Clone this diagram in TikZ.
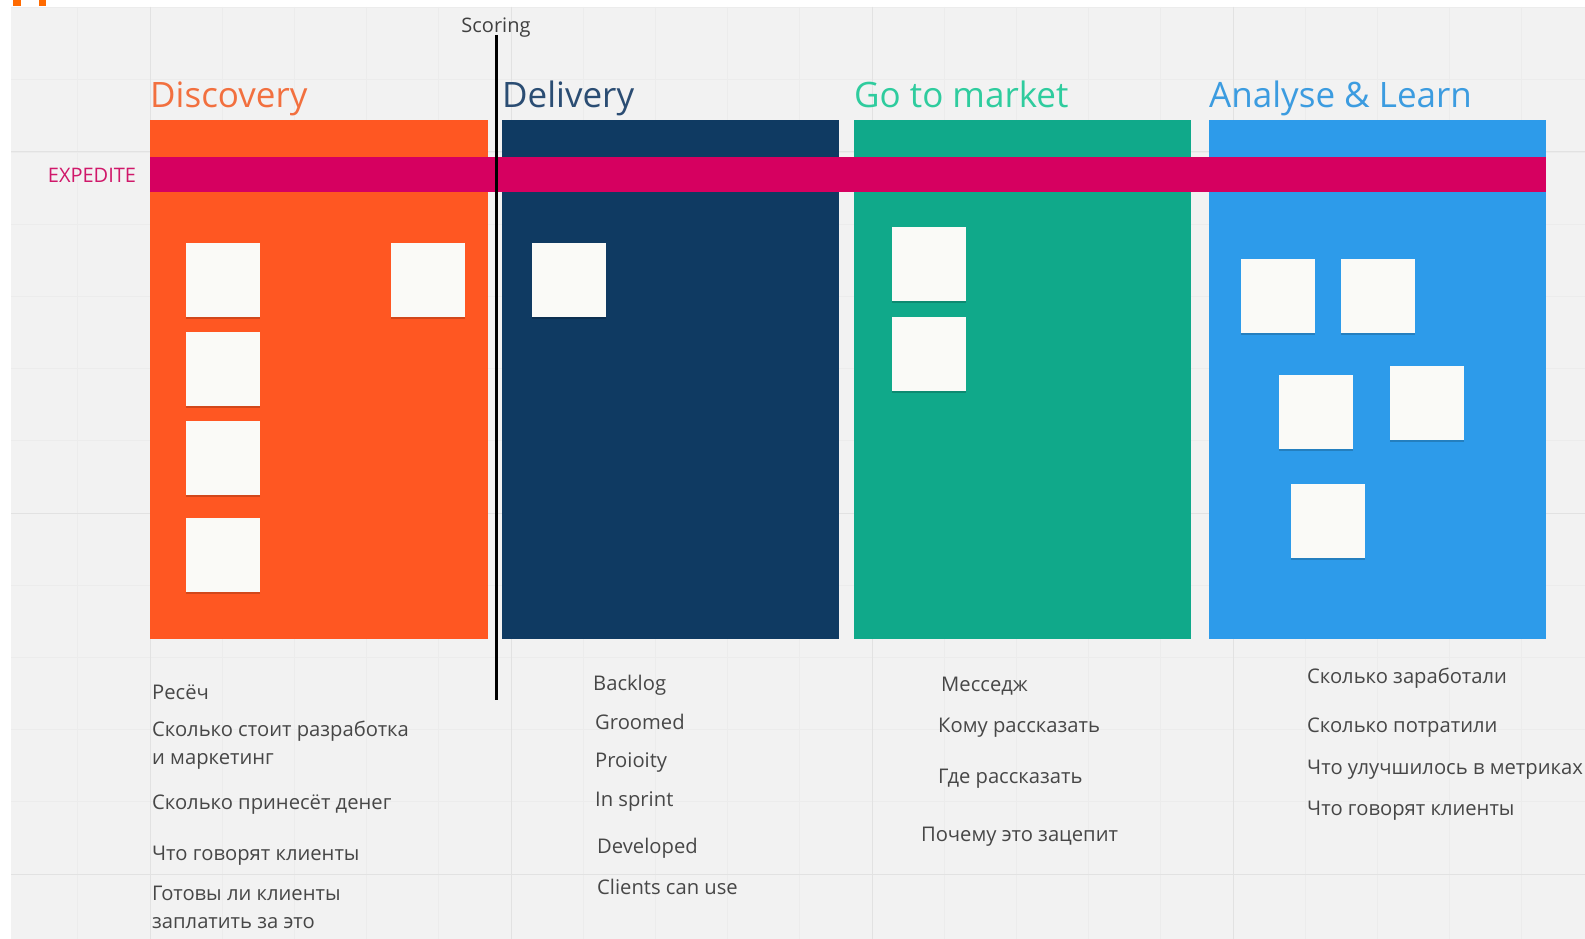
\documentclass[tikz,border=0pt]{standalone}
\usepackage{fontspec}
\setmainfont{Open Sans}
\usetikzlibrary{shadows}
\definecolor{bgc}{HTML}{F2F2F2}
\definecolor{gridminor}{HTML}{ECECEC}
\definecolor{gridmajor}{HTML}{E2E2E2}
\definecolor{colorange}{HTML}{FF5722}
\definecolor{colnavy}{HTML}{0F3A62}
\definecolor{colgreen}{HTML}{10A98A}
\definecolor{colblue}{HTML}{2D9BEA}
\definecolor{expc}{HTML}{D60060}
\definecolor{hdorange}{HTML}{F2703F}
\definecolor{hdnavy}{HTML}{2B4D73}
\definecolor{hdgreen}{HTML}{2FCC9E}
\definecolor{hdblue}{HTML}{3C9CE0}
\definecolor{exptext}{HTML}{D0186A}
\definecolor{stickyc}{HTML}{FAFAF7}
\definecolor{bodytext}{HTML}{474747}
\definecolor{markc}{HTML}{FF6A00}
\tikzset{
  column/.style={fill=#1, draw=none},
  header/.style={anchor=base west, inner sep=0pt, text=#1, font=\fontsize{35}{40}\selectfont},
  sticky/.style={draw=none, fill=stickyc, minimum width=74pt, minimum height=74pt, inner sep=0pt, anchor=north west, drop shadow={shadow xshift=0pt, shadow yshift=-2pt, fill=black, opacity=0.18}},
  body/.style={anchor=base west, inner sep=0pt, text=bodytext, font=\fontsize{20.2}{24}\selectfont},
}
\begin{document}
\begin{tikzpicture}[x=1pt,y=-1pt]
\useasboundingbox (0,0) rectangle (1585,939);
\fill[white] (0,0) rectangle (1585,939);
\fill[bgc] (11,7) rectangle (1585,939);
% grid
\begin{scope}
\clip (11,7) rectangle (1585,939);
\foreach \i in {-2,...,20} {
  \draw[gridminor, line width=0.8pt] ({150+72.2*\i},7) -- ({150+72.2*\i},939);
}
\foreach \j in {-2,...,11} {
  \draw[gridminor, line width=0.8pt] (11,{152+72.2*\j}) -- (1585,{152+72.2*\j});
}
\foreach \i in {0,...,4} {
  \draw[gridmajor, line width=1pt] ({150+361*\i},7) -- ({150+361*\i},939);
}
\foreach \j in {0,...,2} {
  \draw[gridmajor, line width=1pt] (11,{152+361*\j}) -- (1585,{152+361*\j});
}
\end{scope}
% top-left mark
\fill[markc] (13,0) rectangle (21,6);
\fill[markc] (39,0) rectangle (46,6);
% columns
\fill[column=colorange] (150,120) rectangle (488,639);
\fill[column=colnavy] (502,120) rectangle (839,639);
\fill[column=colgreen] (854,120) rectangle (1191,639);
\fill[column=colblue] (1209,120) rectangle (1546,639);
% expedite bar
\fill[expc] (150,157) rectangle (1546,192);
\node[anchor=center, inner sep=0pt, text=exptext, font=\fontsize{20}{24}\selectfont] (expedite) at (92,175) {EXPEDITE};
% headers
\node[header=hdorange] (hdisc) at (150,108) {Discovery};
\node[header=hdnavy] (hdel) at (502,108) {Delivery};
\node[header=hdgreen] (hgo) at (854,108) {Go to market};
\node[header=hdblue] (han) at (1209,108) {Analyse \& Learn};
% scoring
\node[anchor=center, inner sep=0pt, text=black!75, font=\fontsize{20}{24}\selectfont] (scoring) at (496,28) {Scoring};
\coordinate (scoretop) at (496,35);
\coordinate (scorebot) at (496,700);
\draw[black, line width=3pt] (scoretop) -- (scorebot);
% sticky notes
\node[sticky] (d1) at (186,243) {};
\node[sticky] (d2) at (391,243) {};
\node[sticky] (d3) at (186,332) {};
\node[sticky] (d4) at (186,421) {};
\node[sticky] (d5) at (186,518) {};
\node[sticky] (v1) at (532,243) {};
\node[sticky] (g1) at (892,227) {};
\node[sticky] (g2) at (892,317) {};
\node[sticky] (a1) at (1241,259) {};
\node[sticky] (a2) at (1341,259) {};
\node[sticky] (a3) at (1279,375) {};
\node[sticky] (a4) at (1390,366) {};
\node[sticky] (a5) at (1291,484) {};
% discovery texts
\node[body] (t11) at (152,699) {Ресёч};
\node[body] (t12) at (152,736) {Сколько стоит разработка};
\node[body] (t12b) at (152,764) {и маркетинг};
\node[body] (t13) at (152,809) {Сколько принесёт денег};
\node[body] (t14) at (152,860) {Что говорят клиенты};
\node[body] (t15) at (152,900) {Готовы ли клиенты};
\node[body] (t15b) at (152,928) {заплатить за это};
% delivery texts
\node[body] (t21) at (593,690) {Backlog};
\node[body] (t22) at (595,729) {Groomed};
\node[body] (t23) at (595,767) {Proioity};
\node[body] (t24) at (595,806) {In sprint};
\node[body] (t25) at (597,853) {Developed};
\node[body] (t26) at (597,894) {Clients can use};
% go to market texts
\node[body] (t31) at (941,691) {Месседж};
\node[body] (t32) at (938,732) {Кому рассказать};
\node[body] (t33) at (938,783) {Где рассказать};
\node[body] (t34) at (921,841) {Почему это зацепит};
% analyse texts
\node[body] (t41) at (1307,683) {Сколько заработали};
\node[body] (t42) at (1307,732) {Сколько потратили};
\node[body] (t43) at (1307,774) {Что улучшилось в метриках};
\node[body] (t44) at (1307,815) {Что говорят клиенты};
\end{tikzpicture}
\end{document}
